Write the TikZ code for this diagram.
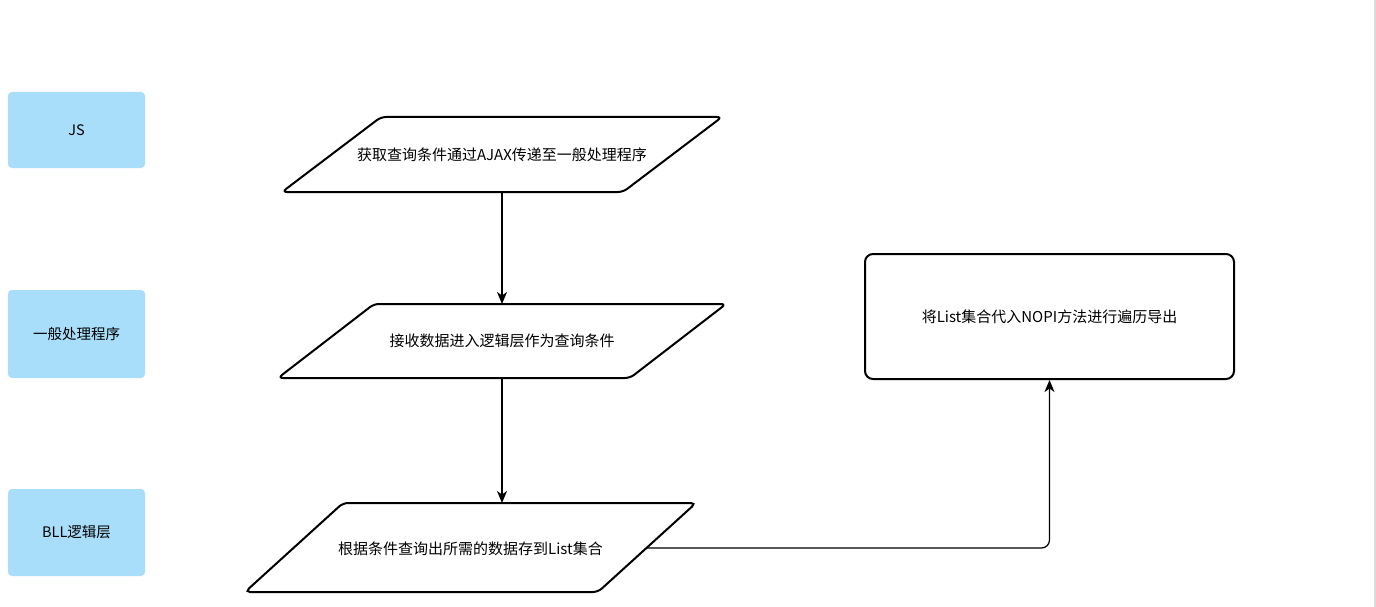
\documentclass[tikz,border=0pt]{standalone}
\usepackage{fontspec}
\setmainfont{Noto Sans CJK SC}
\usetikzlibrary{arrows.meta}
\definecolor{lblue}{RGB}{168,222,249}
\definecolor{edgegray}{RGB}{218,218,218}
\begin{document}
\begin{tikzpicture}[x=1pt,y=-1pt,
  lane/.style={fill=lblue,draw=none,rounded corners=4pt,minimum width=137pt,inner sep=0pt,font=\fontsize{14.5pt}{17pt}\selectfont},
  parashape/.style={draw=black,line width=2pt,rounded corners=5pt,fill=white},
  lbl/.style={inner sep=0pt,font=\fontsize{15pt}{17pt}\selectfont},
  boxr/.style={draw=black,line width=2pt,rounded corners=8pt,minimum width=369pt,minimum height=125pt,inner sep=0pt,font=\fontsize{15pt}{17pt}\selectfont},
  conn/.style={draw=black,line width=1.2pt,-{Stealth[length=12pt,width=10pt,inset=3.5pt]}}
]
\useasboundingbox (0,0) rectangle (1376,607);
\fill[white] (0,0) rectangle (1376,607);
\draw[edgegray,line width=2pt] (1375,0) -- (1375,607);

\node[lane,minimum height=76pt] (js) at (76.5,130) {JS};
\node[lane,minimum height=88pt] (ashx) at (76.5,334) {一般处理程序};
\node[lane,minimum height=87pt] (bll) at (76.5,532.5) {BLL逻辑层};

% parallelograms
\draw[parashape] (381,117) -- (722,117) -- (623,192) -- (282,192) -- cycle;
\draw[parashape] (374,304) -- (726,304) -- (630,378) -- (278,378) -- cycle;
\draw[parashape] (343,503) -- (696,503) -- (598,592) -- (245,592) -- cycle;

\node[lbl] (t1) at (502,155) {获取查询条件通过AJAX传递至一般处理程序};
\node[lbl] (t2) at (502,341) {接收数据进入逻辑层作为查询条件};
\node[lbl] (t3) at (470.5,549) {根据条件查询出所需的数据存到List集合};
\node[boxr] (r) at (1049.5,316.5) {将List集合代入NOPI方法进行遍历导出};

\coordinate (p1b) at (502,192);
\coordinate (p2t) at (502,304);
\coordinate (p2b) at (502,378);
\coordinate (p3t) at (502,503);
\coordinate (p3r) at (646.5,548);

\draw[conn] (p1b) -- (p2t);
\draw[conn] (p2b) -- (p3t);
\draw[conn,rounded corners=8pt] (p3r) -| (r.south);
\end{tikzpicture}
\end{document}
